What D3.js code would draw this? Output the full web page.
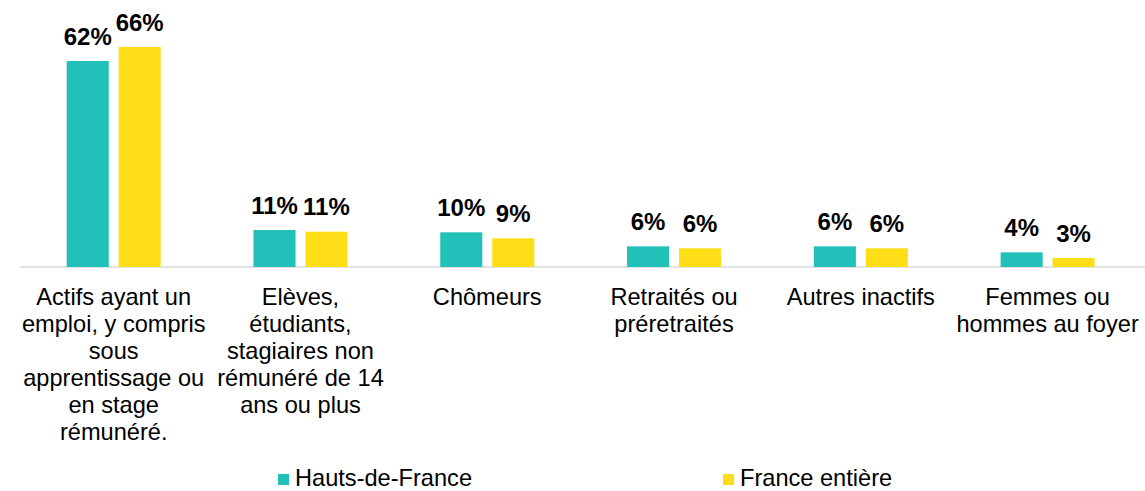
<!DOCTYPE html>
<html>
<head>
<meta charset="utf-8">
<script src="https://cdn.jsdelivr.net/npm/d3@7"></script>
<style>
  body { margin: 0; background: #fff; }
  svg { display: block; font-family: "Liberation Sans", Arial, sans-serif; }
</style>
</head>
<body>
<script>
// categories (line breaks as in the original chart)
var categories = [
    "Actifs ayant un\nemploi, y compris\nsous\napprentissage ou\nen stage\nrémunéré.",
    "Elèves,\nétudiants,\nstagiaires non\nrémunéré de 14\nans ou plus",
    "Chômeurs",
    "Retraités ou\npréretraités",
    "Autres inactifs",
    "Femmes ou\nhommes au foyer"
];
var series = ["Hauts-de-France", "France entière"];
var hautsDeFrance = [61.8, 11.1, 10.4, 6.2, 6.2, 4.4];
var franceEntiere = [66.0, 10.6, 8.6, 5.6, 5.6, 2.7];
var colors = ["#21c1ba", "#ffde17"];

var w = 1145,
    h = 491,
    base = 267;

var svg = d3.select("body").append("svg")
    .attr("width", w)
    .attr("height", h);

var x0 = d3.scaleBand()
    .domain(categories)
    .range([20.3, 1141]);

var x1 = d3.scaleBand()
    .domain(series)
    .range([-47, 47])
    .paddingInner(0.19);

var y = d3.scaleLinear()
    .domain([0, 66])
    .range([base, 47]);

var color = d3.scaleOrdinal().domain(series).range(colors);

var rows = categories.map(function (c, i) {
    return { cat: c, values: [
        { s: series[0], v: hautsDeFrance[i] },
        { s: series[1], v: franceEntiere[i] }
    ] };
});

// baseline
svg.append("line")
    .attr("x1", 20).attr("x2", w)
    .attr("y1", base).attr("y2", base)
    .attr("stroke", "#d9d9d9")
    .attr("stroke-width", 1.5);

var group = svg.selectAll("g.cat")
    .data(rows)
    .enter().append("g")
    .attr("class", "cat")
    .attr("transform", function (d) { return "translate(" + (x0(d.cat) + x0.bandwidth() / 2) + ",0)"; });

group.selectAll("rect")
    .data(function (d) { return d.values; })
    .enter().append("rect")
    .attr("x", function (d) { return x1(d.s); })
    .attr("width", x1.bandwidth())
    .attr("y", function (d) { return y(d.v); })
    .attr("height", function (d) { return base - y(d.v); })
    .attr("fill", function (d) { return color(d.s); });

group.selectAll("text.val")
    .data(function (d) { return d.values; })
    .enter().append("text")
    .attr("class", "val")
    .attr("x", function (d) { return x1(d.s) + x1.bandwidth() / 2; })
    .attr("y", function (d) { return y(d.v) - 16.5; })
    .attr("text-anchor", "middle")
    .style("font-size", "24px")
    .style("font-weight", "bold")
    .attr("fill", "#000")
    .text(function (d) { return Math.round(d.v) + "%"; });

// category labels
group.append("text")
    .attr("text-anchor", "middle")
    .style("font-size", "23.6px")
    .attr("fill", "#000")
    .selectAll("tspan")
    .data(function (d) { return d.cat.split("\n"); })
    .enter().append("tspan")
    .attr("x", 0)
    .attr("y", function (d, i) { return 305 + i * 27; })
    .text(function (d) { return d; });

// legend
var legendX = [278, 723];
var legend = svg.selectAll("g.legend")
    .data(series)
    .enter().append("g")
    .attr("class", "legend")
    .attr("transform", function (d, i) { return "translate(" + legendX[i] + ",474)"; });

legend.append("rect")
    .attr("width", 11)
    .attr("height", 11)
    .attr("fill", function (d) { return color(d); });

legend.append("text")
    .attr("x", 17)
    .attr("y", 12)
    .style("font-size", "23.6px")
    .attr("fill", "#000")
    .text(function (d) { return d; });
</script>
</body>
</html>
